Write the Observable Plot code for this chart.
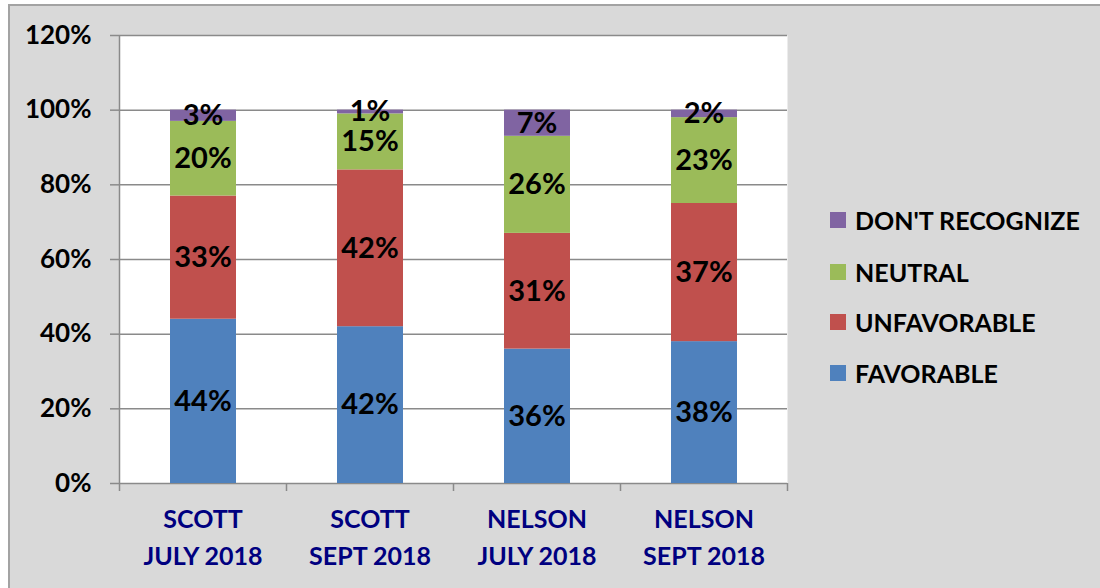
<!DOCTYPE html>
<html>
<head>
<meta charset="utf-8">
<script src="https://cdn.jsdelivr.net/npm/d3@7"></script>
<script src="https://cdn.jsdelivr.net/npm/@observablehq/plot@0.6"></script>
<style>
  html, body { margin: 0; padding: 0; background: #ffffff; }
  #wrap { position: relative; width: 1100px; height: 588px; overflow: hidden; font-family: Lato, "Open Sans", sans-serif; }
  #bg { position: absolute; left: 8px; top: 4px; right: 0; bottom: 0; background: #d9d9d9; border-left: 2px solid #a3a3a3; border-top: 2px solid #a3a3a3; }
  #chart { position: absolute; left: 0; top: 0; }
  #legend { position: absolute; left: 830px; top: 0; }
  .item { position: absolute; left: 0; display: flex; align-items: center; white-space: nowrap; font-weight: bold; font-size: 25px; color: #000; }
  .sw { width: 16px; height: 16px; margin-right: 9px; }
</style>
</head>
<body>
<div id="wrap">
  <div id="bg"></div>
  <div id="chart"></div>
  <div id="legend"></div>
</div>
<script>
// ---- data ----
const categories = ["SCOTT\nJULY 2018", "SCOTT\nSEPT 2018", "NELSON\nJULY 2018", "NELSON\nSEPT 2018"];
const series = ["FAVORABLE", "UNFAVORABLE", "NEUTRAL", "DON'T RECOGNIZE"];
const favorable = [44, 42, 36, 38];
const unfavorable = [33, 42, 31, 37];
const neutral = [20, 15, 26, 23];
const dontRecognize = [3, 1, 7, 2];
const yTicks = [0, 20, 40, 60, 80, 100, 120];
const colors = ["#4F81BD", "#C0504D", "#9BBB59", "#8064A2"];

// ---- build stacked table ----
const valuesBySeries = [favorable, unfavorable, neutral, dontRecognize];
const rows = [];
categories.forEach((c, i) => {
  let cum = 0;
  series.forEach((s, j) => {
    const v = valuesBySeries[j][i];
    rows.push({category: c, idx: i, series: s, value: v, y1: cum, y2: cum + v});
    cum += v;
  });
});
const boundaries = d3.range(categories.length + 1);
const centers = categories.map((c, i) => i + 0.5);
const gray = "#8a8a8a";

const chart = Plot.plot({
  width: 1100,
  height: 588,
  marginLeft: 119,
  marginRight: 313,
  marginTop: 35,
  marginBottom: 105,
  style: {background: "transparent", fontFamily: "Lato, 'Open Sans', sans-serif", overflow: "visible"},
  x: {domain: [0, categories.length]},
  y: {domain: [0, 120]},
  color: {domain: series, range: colors},
  marks: [
    Plot.frame({fill: "white", stroke: "none"}),
    Plot.gridY(yTicks, {stroke: gray, strokeOpacity: 1, strokeWidth: 1.5}),
    Plot.rect(rows, {
      x1: d => d.idx, x2: d => d.idx + 1, y1: "y1", y2: "y2",
      fill: "series", insetLeft: 51, insetRight: 50
    }),
    Plot.ruleX([0], {stroke: gray, strokeWidth: 1.5}),
    Plot.axisY(yTicks, {
      tickFormat: d => d + "%", tickSize: 9, tickPadding: 19,
      fontSize: 26, fontWeight: "bold", stroke: gray, strokeWidth: 1.5, fill: "black"
    }),
    Plot.axisX(boundaries, {tickSize: 8, tickFormat: () => "", stroke: gray, strokeWidth: 1.5}),
    Plot.axisX(centers, {
      tickSize: 0, tickPadding: 18, tickFormat: t => categories[Math.floor(t)],
      fontSize: 25, fontWeight: "bold", fill: "#000080", lineHeight: 1.48
    }),
    Plot.text(rows, {
      x: d => d.idx + 0.5, y: d => (d.y1 + d.y2) / 2, text: d => d.value + "%",
      fontSize: 29, fontWeight: "bold", fill: "black"
    })
  ]
});
document.getElementById("chart").appendChild(chart);

// ---- legend ----
const legend = document.getElementById("legend");
const legendTops = [220, 272, 322, 373];
series.slice().reverse().forEach((s, k) => {
  const j = series.indexOf(s);
  const item = document.createElement("div");
  item.className = "item";
  item.style.top = (legendTops[k] - 15) + "px";
  item.style.height = "30px";
  const sw = document.createElement("span");
  sw.className = "sw";
  sw.style.background = colors[j];
  const tx = document.createElement("span");
  tx.textContent = s;
  item.appendChild(sw);
  item.appendChild(tx);
  legend.appendChild(item);
});
</script>
</body>
</html>
